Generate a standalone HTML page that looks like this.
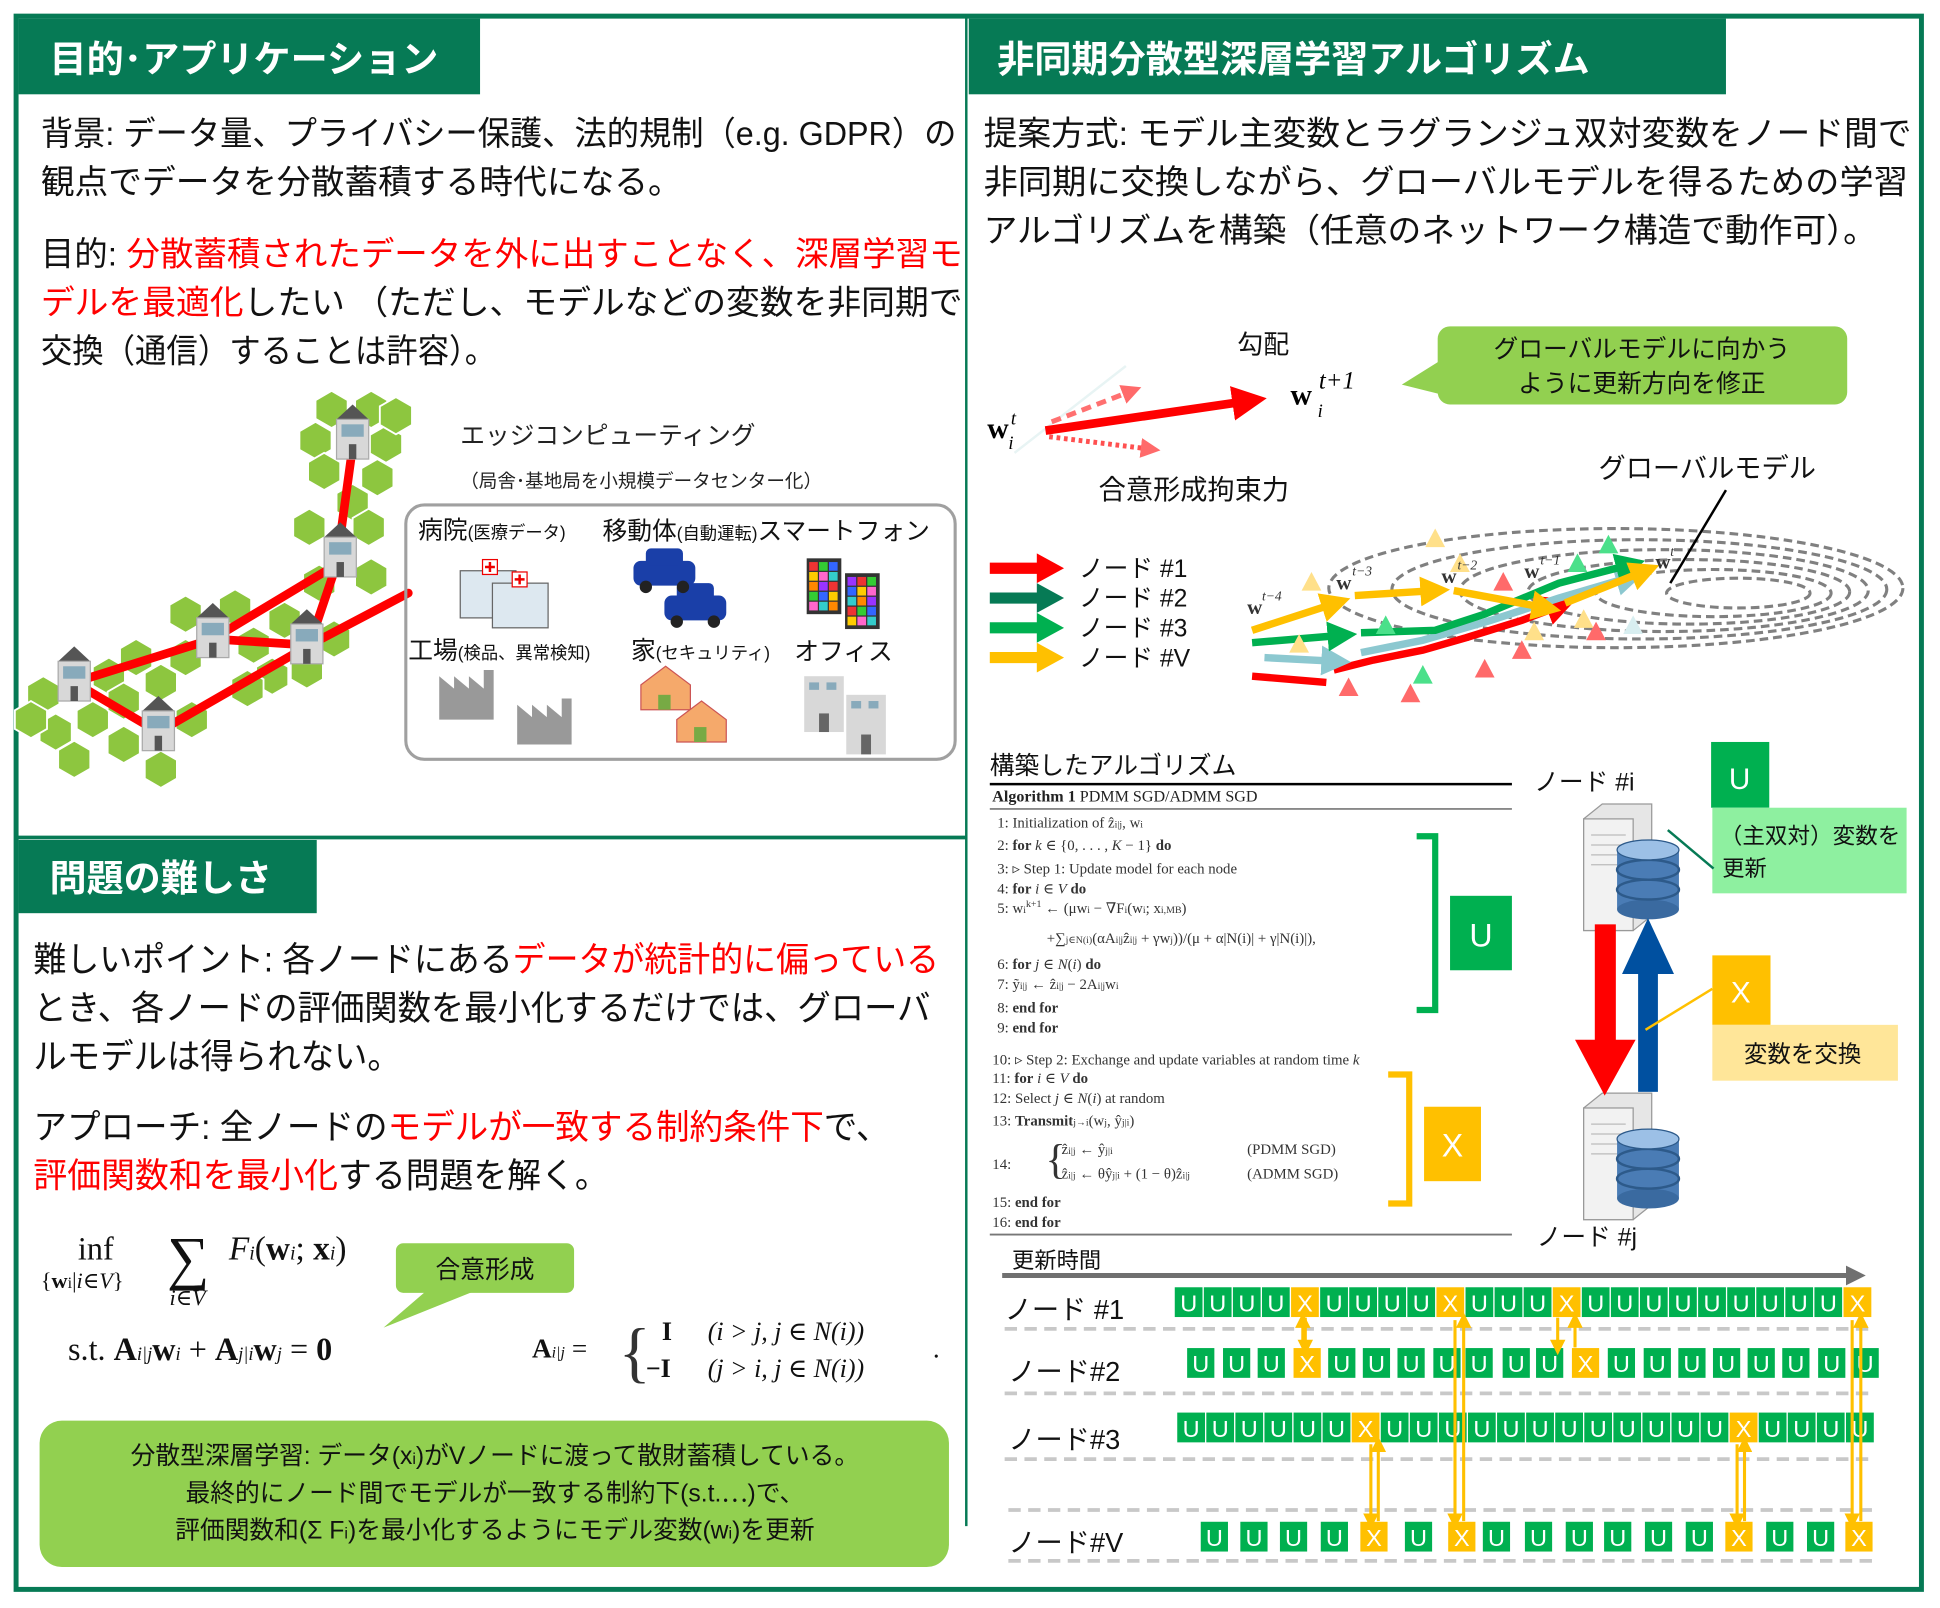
<!DOCTYPE html>
<html><head><meta charset="utf-8">
<style>
html,body{margin:0;padding:0;background:#fff;}
svg{display:block;}
text{font-family:"Liberation Sans","Noto Sans CJK JP",sans-serif;}
.s,.s text,text.s{font-family:"Liberation Serif","DejaVu Serif",serif;}
</style></head><body>
<svg id="m" width="1940" height="1608" viewBox="0 0 1568 1296" preserveAspectRatio="none" xmlns="http://www.w3.org/2000/svg">
<defs>
<marker id="ar" markerWidth="4" markerHeight="4" refX="2" refY="2" orient="auto" markerUnits="strokeWidth"><path d="M0,0L4,2L0,4z" fill="#ff0000"/></marker>
<marker id="ao" markerWidth="4" markerHeight="4" refX="2" refY="2" orient="auto" markerUnits="strokeWidth"><path d="M0,0L4,2L0,4z" fill="#ffc000"/></marker>
<marker id="ag" markerWidth="4" markerHeight="4" refX="2" refY="2" orient="auto" markerUnits="strokeWidth"><path d="M0,0L4,2L0,4z" fill="#00b050"/></marker>
<marker id="ab" markerWidth="4" markerHeight="4" refX="2" refY="2" orient="auto" markerUnits="strokeWidth"><path d="M0,0L4,2L0,4z" fill="#8cc8d0"/></marker>
<marker id="ap" markerWidth="4" markerHeight="4" refX="2" refY="2" orient="auto" markerUnits="strokeWidth"><path d="M0,0L4,2L0,4z" fill="#ff6a6a"/></marker>
<marker id="ay" markerWidth="5" markerHeight="5" refX="2.5" refY="2.5" orient="auto" markerUnits="strokeWidth"><path d="M0,0L5,2.5L0,5z" fill="#ffc000"/></marker>
<marker id="agr" markerWidth="4" markerHeight="4" refX="1" refY="2" orient="auto" markerUnits="strokeWidth"><path d="M0,0L4,2L0,4z" fill="#707070"/></marker>
</defs>
<rect x="13" y="13" width="1540" height="1268" fill="none" stroke="#067a55" stroke-width="4"/>
<line x1="781" y1="13" x2="781" y2="1230" stroke="#067a55" stroke-width="2"/>
<line x1="13" y1="675" x2="781" y2="675" stroke="#067a55" stroke-width="3"/>
<rect x="15" y="15" width="373" height="61" fill="#067a55"/>
<text x="40" y="58" font-size="30" font-weight="bold" fill="#fff">目的･アプリケーション</text>
<rect x="783" y="15" width="612" height="61" fill="#067a55"/>
<text x="806" y="58" font-size="30" font-weight="bold" fill="#fff">非同期分散型深層学習アルゴリズム</text>
<rect x="15" y="677" width="241" height="59" fill="#067a55"/>
<text x="40" y="718" font-size="30" font-weight="bold" fill="#fff">問題の難しさ</text>

<g font-size="27" fill="#111">
<text x="33" y="117" textLength="740" lengthAdjust="spacingAndGlyphs">背景: データ量、プライバシー保護、法的規制（e.g. GDPR）の</text>
<text x="33" y="156" textLength="518" lengthAdjust="spacingAndGlyphs">観点でデータを分散蓄積する時代になる。</text>
<text x="33" y="214" textLength="745" lengthAdjust="spacingAndGlyphs">目的: <tspan fill="#ff0000">分散蓄積されたデータを外に出すことなく、深層学習モ</tspan></text>
<text x="33" y="253" textLength="745" lengthAdjust="spacingAndGlyphs"><tspan fill="#ff0000">デルを最適化</tspan>したい （ただし、モデルなどの変数を非同期で</text>
<text x="33" y="292" textLength="368" lengthAdjust="spacingAndGlyphs">交換（通信）することは許容）。</text>
</g>

<g id="hex"></g>
<g stroke="#ff0000" stroke-width="7" fill="none" stroke-linecap="round">
<polyline points="285,360 272,455 250,520 330,478"/>
<polyline points="272,455 172,515 60,550 128,590 250,520 172,515"/>
</g>
<g id="bld"></g>
<text x="372" y="358" font-size="20" fill="#222">エッジコンピューティング</text>
<text x="372" y="393" font-size="15" fill="#222">（局舎･基地局を小規模データセンター化）</text>
<rect x="328" y="407" width="444" height="205" rx="15" fill="none" stroke="#a0a0a0" stroke-width="2.5"/>
<g font-size="20" fill="#111">
<text x="338" y="434">病院<tspan font-size="14">(医療データ)</tspan></text>
<text x="487" y="435">移動体<tspan font-size="14">(自動運転)</tspan>スマートフォン</text>
<text x="330" y="531">工場<tspan font-size="14">(検品、異常検知)</tspan></text>
<text x="510" y="531">家<tspan font-size="14">(セキュリティ)</tspan></text>
<text x="642" y="532">オフィス</text>
</g>
<g stroke="#666" stroke-width="1" fill="#dde8f0"><rect x="372" y="460" width="45" height="38"/><rect x="398" y="470" width="45" height="36"/></g>
<rect x="390" y="451" width="12" height="12" fill="#fff" stroke="#e00"/><path d="M396,453v8M392,457h8" stroke="#e00" stroke-width="2"/>
<rect x="414" y="461" width="12" height="12" fill="#fff" stroke="#e00"/><path d="M420,463v8M416,467h8" stroke="#e00" stroke-width="2"/>
<g fill="#1a3fa8"><rect x="512" y="452" width="50" height="20" rx="6"/><rect x="522" y="442" width="30" height="14" rx="4"/><rect x="537" y="480" width="50" height="20" rx="6"/><rect x="547" y="470" width="30" height="14" rx="4"/></g>
<g fill="#222"><circle cx="522" cy="473" r="5"/><circle cx="552" cy="473" r="5"/><circle cx="547" cy="501" r="5"/><circle cx="577" cy="501" r="5"/></g>
<rect x="652" y="450" width="28" height="45" fill="#333"/><rect x="683" y="462" width="28" height="45" fill="#333"/>
<g id="px"></g>
<path d="M355,580V545l12,10V545l12,10V545l12,10V540h8V580z M418,600V568l12,10V568l12,10V568l12,10V563h8V600z" fill="#999"/>
<g fill="#f5a96b" stroke="#c55" stroke-width="1"><path d="M518,552l20,-15l20,15v20h-40z"/><path d="M547,580l20,-15l20,15v18h-40z"/></g>
<g fill="#7a4"><rect x="532" y="560" width="10" height="12"/><rect x="561" y="586" width="10" height="12"/></g>
<rect x="650" y="545" width="32" height="45" fill="#d8d8d8"/><rect x="684" y="560" width="32" height="48" fill="#d8d8d8"/>
<rect x="662" y="575" width="8" height="15" fill="#666"/><rect x="696" y="592" width="8" height="16" fill="#666"/>
<g fill="#8ab" ><rect x="654" y="550" width="8" height="6"/><rect x="668" y="550" width="8" height="6"/><rect x="688" y="565" width="8" height="6"/><rect x="702" y="565" width="8" height="6"/></g>

<g font-size="28" fill="#111">
<text x="27" y="783" textLength="732" lengthAdjust="spacingAndGlyphs">難しいポイント: 各ノードにある<tspan fill="#ff0000">データが統計的に偏っている</tspan></text>
<text x="27" y="822" textLength="725" lengthAdjust="spacingAndGlyphs">とき、各ノードの評価関数を最小化するだけでは、グローバ</text>
<text x="27" y="861" textLength="297" lengthAdjust="spacingAndGlyphs">ルモデルは得られない。</text>
<text x="27" y="918" textLength="692" lengthAdjust="spacingAndGlyphs">アプローチ: 全ノードの<tspan fill="#ff0000">モデルが一致する制約条件下</tspan>で、</text>
<text x="27" y="957" textLength="465" lengthAdjust="spacingAndGlyphs"><tspan fill="#ff0000">評価関数和を最小化</tspan>する問題を解く。</text>
</g>
<g class="s" fill="#111">
<text x="63" y="1015" font-size="26">inf</text>
<text x="33" y="1038" font-size="18">{<tspan font-weight="bold">w</tspan><tspan font-size="13">i</tspan>|<tspan font-style="italic">i</tspan>∈<tspan font-style="italic">V</tspan>}</text>
<text x="135" y="1030" font-size="48">∑</text>
<text x="137" y="1052" font-size="18" font-style="italic">i∈V</text>
<text x="185" y="1015" font-size="27"><tspan font-style="italic">F</tspan><tspan font-size="16" font-style="italic">i</tspan>(<tspan font-weight="bold">w</tspan><tspan font-size="16" font-style="italic">i</tspan>; <tspan font-weight="bold">x</tspan><tspan font-size="16" font-style="italic">i</tspan>)</text>
<text x="55" y="1096" font-size="26">s.t. <tspan font-weight="bold">A</tspan><tspan font-size="15" font-style="italic">i|j</tspan><tspan font-weight="bold">w</tspan><tspan font-size="15" font-style="italic">i</tspan> + <tspan font-weight="bold">A</tspan><tspan font-size="15" font-style="italic">j|i</tspan><tspan font-weight="bold">w</tspan><tspan font-size="15" font-style="italic">j</tspan> = <tspan font-weight="bold">0</tspan></text>
<text x="430" y="1094" font-size="22"><tspan font-weight="bold">A</tspan><tspan font-size="13" font-style="italic">i|j</tspan> =</text>
<text x="500" y="1108" font-size="54" fill="#333">{</text>
<text x="535" y="1080" font-size="21"><tspan font-weight="bold">I</tspan><tspan x="572" font-style="italic">(i &gt; j,  j ∈ N(i))</tspan></text>
<text x="522" y="1110" font-size="21"><tspan font-weight="bold">−I</tspan><tspan x="572" font-style="italic">(j &gt; i,  j ∈ N(i))</tspan></text>
<text x="754" y="1094" font-size="22">.</text>
</g>
<rect x="320" y="1002" width="144" height="40" rx="6" fill="#92d050"/>
<path d="M345,1040L310,1070L385,1040z" fill="#92d050"/>
<text x="392" y="1030" font-size="20" text-anchor="middle" fill="#111">合意形成</text>
<rect x="32" y="1145" width="735" height="118" rx="18" fill="#92d050"/>
<g font-size="20" fill="#111" text-anchor="middle">
<text x="400" y="1180">分散型深層学習: データ(x<tspan font-size="13">i</tspan>)がVノードに渡って散財蓄積している。</text>
<text x="400" y="1210">最終的にノード間でモデルが一致する制約下(s.t.⋯)で、</text>
<text x="400" y="1240">評価関数和(Σ F<tspan font-size="13">i</tspan>)を最小化するようにモデル変数(w<tspan font-size="13">i</tspan>)を更新</text>
</g>

<g font-size="27" fill="#111">
<text x="795" y="117" textLength="750" lengthAdjust="spacingAndGlyphs">提案方式: モデル主変数とラグランジュ双対変数をノード間で</text>
<text x="795" y="156" textLength="747" lengthAdjust="spacingAndGlyphs">非同期に交換しながら、グローバルモデルを得るための学習</text>
<text x="795" y="195" textLength="722" lengthAdjust="spacingAndGlyphs">アルゴリズムを構築（任意のネットワーク構造で動作可）。</text>
</g>
<text x="1000" y="285" font-size="21" fill="#111">勾配</text>
<line x1="820" y1="365" x2="910" y2="295" stroke="#e8f4f4" stroke-width="2"/>
<line x1="850" y1="340" x2="915" y2="315" stroke="#ff7070" stroke-width="4" stroke-dasharray="8,5" marker-end="url(#ap)"/>
<line x1="845" y1="347" x2="1010" y2="323" stroke="#ff0000" stroke-width="7" marker-end="url(#ar)"/>
<line x1="848" y1="352" x2="930" y2="362" stroke="#ff5050" stroke-width="4" stroke-dasharray="3,3" marker-end="url(#ap)"/>
<g class="s">
<text x="798" y="353" font-size="24" font-weight="bold">w</text><text x="817" y="342" font-size="15" font-style="italic">t</text><text x="815" y="362" font-size="15" font-style="italic">i</text>
<text x="1043" y="326" font-size="24" font-weight="bold">w</text><text x="1066" y="313" font-size="20" font-style="italic">t+1</text><text x="1065" y="336" font-size="15" font-style="italic">i</text>
</g>
<text x="888" y="402" font-size="22" fill="#111">合意形成拘束力</text>
<rect x="1162" y="263" width="331" height="63" rx="10" fill="#92d050"/>
<path d="M1165,290L1133,310L1165,318z" fill="#92d050"/>
<text x="1327" y="288" font-size="20" text-anchor="middle" fill="#111">グローバルモデルに向かう</text>
<text x="1327" y="316" font-size="20" text-anchor="middle" fill="#111">ように更新方向を修正</text>
<text x="1292" y="385" font-size="22" fill="#111">グローバルモデル</text>
<g fill="none" stroke="#808080" stroke-width="2.5" stroke-dasharray="7,4">
<ellipse cx="1306" cy="474" rx="232" ry="48"/>
<ellipse cx="1325" cy="475" rx="200" ry="40"/>
<ellipse cx="1345" cy="476" rx="165" ry="33"/>
<ellipse cx="1365" cy="477" rx="130" ry="26"/>
<ellipse cx="1385" cy="478" rx="95" ry="19"/>
<ellipse cx="1405" cy="478" rx="58" ry="12"/>
</g>
<g fill="none" stroke-width="6">
<polyline points="1012,545 1072,550" stroke="#ff0000"/>
<polyline points="1078,540 1110,532 1150,524 1185,514 1230,500 1262,488" stroke="#ff0000" marker-end="url(#ar)"/>
<polyline points="1022,530 1080,533" stroke="#8cc8d0" marker-end="url(#ab)"/>
<polyline points="1100,526 1150,516 1205,500 1260,482 1318,465" stroke="#8cc8d0" marker-end="url(#ab)"/>
<polyline points="1012,518 1085,512" stroke="#00b050" marker-end="url(#ag)"/>
<polyline points="1100,510 1160,508 1200,495 1260,470 1318,455" stroke="#00b050" marker-end="url(#ag)"/>
<polyline points="1012,508 1080,486" stroke="#ffc000" marker-end="url(#ao)"/>
<polyline points="1095,480 1160,476" stroke="#ffc000" marker-end="url(#ao)"/>
<polyline points="1175,476 1250,490" stroke="#ffc000" marker-end="url(#ao)"/>
<polyline points="1265,486 1330,460" stroke="#ffc000" marker-end="url(#ao)"/>
</g>
<g id="conf"></g>
<g class="s" font-size="17" font-weight="bold" fill="#333">
<text x="1008" y="495">w</text><text x="1080" y="475">w</text><text x="1165" y="470">w</text><text x="1232" y="466">w</text><text x="1338" y="458">w</text>
</g>
<g class="s" font-size="11" font-style="italic" fill="#333">
<text x="1020" y="484">t−4</text><text x="1093" y="464">t−3</text><text x="1178" y="459">t−2</text><text x="1245" y="455">t−1</text><text x="1350" y="448">t</text>
</g>
<line x1="1395" y1="395" x2="1350" y2="470" stroke="#000" stroke-width="2"/>
<g stroke-width="9" fill="none">
<line x1="800" y1="458" x2="842" y2="458" stroke="#ff0000"/>
<line x1="800" y1="482" x2="842" y2="482" stroke="#067a55"/>
<line x1="800" y1="506" x2="842" y2="506" stroke="#00b050"/>
<line x1="800" y1="530" x2="842" y2="530" stroke="#ffc000"/>
</g>
<path d="M838,446L860,458L838,470z" fill="#ff0000"/>
<path d="M838,470L860,482L838,494z" fill="#067a55"/>
<path d="M838,494L860,506L838,518z" fill="#00b050"/>
<path d="M838,518L860,530L838,542z" fill="#ffc000"/>
<g font-size="20" fill="#111"><text x="872" y="465">ノード #1</text><text x="872" y="489">ノード #2</text><text x="872" y="513">ノード #3</text><text x="872" y="537">ノード #V</text></g>

<text x="800" y="624" font-size="20" fill="#111">構築したアルゴリズム</text>
<line x1="800" y1="632" x2="1222" y2="632" stroke="#000" stroke-width="2"/>
<text x="802" y="646" font-size="13" class="s" fill="#222"><tspan font-weight="bold">Algorithm 1</tspan> PDMM SGD/ADMM SGD</text>
<line x1="800" y1="652" x2="1222" y2="652" stroke="#888" stroke-width="1.5"/>
<g class="s" font-size="12" fill="#333">
<text x="806" y="667">1: Initialization of ẑ<tspan font-size="8">i|j</tspan>, w<tspan font-size="8">i</tspan></text>
<text x="806" y="685">2: <tspan font-weight="bold">for</tspan> <tspan font-style="italic">k</tspan> ∈ {0, . . . , <tspan font-style="italic">K</tspan> − 1} <tspan font-weight="bold">do</tspan></text>
<text x="806" y="704">3:    ▹ Step 1: Update model for each node</text>
<text x="806" y="720">4:    <tspan font-weight="bold">for</tspan> <tspan font-style="italic">i</tspan> ∈ <tspan font-style="italic">V</tspan> <tspan font-weight="bold">do</tspan></text>
<text x="806" y="736">5:       w<tspan font-size="8">i</tspan><tspan font-size="8" dy="-5">k+1</tspan><tspan dy="5"> ← (μw<tspan font-size="8">i</tspan> − ∇F<tspan font-size="8">i</tspan>(w<tspan font-size="8">i</tspan>; x<tspan font-size="8">i,MB</tspan>)</tspan></text>
<text x="846" y="760">+∑<tspan font-size="8">j∈N(i)</tspan>(αA<tspan font-size="8">i|j</tspan>ẑ<tspan font-size="8">i|j</tspan> + γw<tspan font-size="8">j</tspan>))/(μ + α|N(i)| + γ|N(i)|),</text>
<text x="806" y="781">6:       <tspan font-weight="bold">for</tspan> <tspan font-style="italic">j</tspan> ∈ <tspan font-style="italic">N</tspan>(<tspan font-style="italic">i</tspan>) <tspan font-weight="bold">do</tspan></text>
<text x="806" y="797">7:          ỹ<tspan font-size="8">i|j</tspan> ← ẑ<tspan font-size="8">i|j</tspan> − 2A<tspan font-size="8">i|j</tspan>w<tspan font-size="8">i</tspan></text>
<text x="806" y="816">8:       <tspan font-weight="bold">end for</tspan></text>
<text x="806" y="832">9:    <tspan font-weight="bold">end for</tspan></text>
<text x="802" y="858">10:    ▹ Step 2: Exchange and update variables at random time <tspan font-style="italic">k</tspan></text>
<text x="802" y="873">11:    <tspan font-weight="bold">for</tspan> <tspan font-style="italic">i</tspan> ∈ <tspan font-style="italic">V</tspan> <tspan font-weight="bold">do</tspan></text>
<text x="802" y="889">12:       Select <tspan font-style="italic">j</tspan> ∈ <tspan font-style="italic">N</tspan>(<tspan font-style="italic">i</tspan>) at random</text>
<text x="802" y="907">13:       <tspan font-weight="bold">Transmit</tspan><tspan font-size="8">j→i</tspan>(w<tspan font-size="8">j</tspan>, ŷ<tspan font-size="8">j|i</tspan>)</text>
<text x="802" y="942">14:</text>
<text x="845" y="946" font-size="34">{</text>
<text x="858" y="930">ẑ<tspan font-size="8">i|j</tspan> ← ŷ<tspan font-size="8">j|i</tspan></text><text x="1008" y="930">(PDMM SGD)</text>
<text x="858" y="950">ẑ<tspan font-size="8">i|j</tspan> ← θŷ<tspan font-size="8">j|i</tspan> + (1 − θ)ẑ<tspan font-size="8">i|j</tspan></text><text x="1008" y="950">(ADMM SGD)</text>
<text x="802" y="973">15:    <tspan font-weight="bold">end for</tspan></text>
<text x="802" y="989">16: <tspan font-weight="bold">end for</tspan></text>
</g>
<line x1="800" y1="995" x2="1222" y2="995" stroke="#777" stroke-width="1.5"/>
<path d="M1145,674h15v140h-15" fill="none" stroke="#00b050" stroke-width="5"/>
<rect x="1172" y="722" width="50" height="60" fill="#00b050"/><text x="1197" y="763" font-size="26" fill="#fff" text-anchor="middle">U</text>
<path d="M1122,866h17v104h-17" fill="none" stroke="#ffc000" stroke-width="5"/>
<rect x="1151" y="892" width="46" height="60" fill="#ffc000"/><text x="1174" y="932" font-size="26" fill="#fff" text-anchor="middle">X</text>

<text x="1240" y="637" font-size="20" fill="#111">ノード #i</text>
<text x="1242" y="1004" font-size="20" fill="#111">ノード #j</text>
<g id="srv1"></g>
<rect x="1289" y="745" width="17" height="95" fill="#ff0000"/>
<path d="M1273,838L1322,838L1297,883z" fill="#ff0000"/>
<rect x="1324" y="783" width="16" height="97" fill="#0050a0"/>
<path d="M1311,785L1353,785L1332,740z" fill="#0050a0"/>
<rect x="1383" y="598" width="47" height="53" fill="#00b050"/><text x="1406" y="636" font-size="24" fill="#fff" text-anchor="middle">U</text>
<rect x="1384" y="651" width="157" height="69" fill="#8ef0a0"/>
<text x="1390" y="680" font-size="18" fill="#111" textLength="146" lengthAdjust="spacingAndGlyphs">（主双対）変数を</text><text x="1392" y="706" font-size="18" fill="#111">更新</text>
<line x1="1385" y1="700" x2="1348" y2="669" stroke="#067a55" stroke-width="2"/>
<rect x="1384" y="770" width="47" height="56" fill="#ffc000"/><text x="1407" y="808" font-size="24" fill="#fff" text-anchor="middle">X</text>
<rect x="1384" y="826" width="150" height="45" fill="#ffe699"/>
<text x="1457" y="856" font-size="19" fill="#111" text-anchor="middle">変数を交換</text>
<line x1="1384" y1="797" x2="1330" y2="830" stroke="#ffc000" stroke-width="2"/>

<text x="818" y="1022" font-size="18" fill="#111">更新時間</text>
<line x1="810" y1="1028" x2="1496" y2="1028" stroke="#707070" stroke-width="4" marker-end="url(#agr)"/>
<g stroke="#c8c8c8" stroke-width="3" stroke-dasharray="10,6">
<line x1="812" y1="1071" x2="1512" y2="1071"/><line x1="812" y1="1123" x2="1512" y2="1123"/>
<line x1="812" y1="1176" x2="1512" y2="1176"/><line x1="815" y1="1217" x2="1515" y2="1217"/>
<line x1="815" y1="1258" x2="1515" y2="1258"/>
</g>
<g font-size="22" fill="#111">
<text x="812" y="1063">ノード #1</text><text x="815" y="1113">ノード#2</text><text x="815" y="1168">ノード#3</text><text x="815" y="1251">ノード#V</text>
</g>
<g id="tl"></g>
</svg>
<script>
var NS="http://www.w3.org/2000/svg";
function el(p,t,a,txt){var e=document.createElementNS(NS,t);for(var k in a)e.setAttribute(k,a[k]);if(txt)e.textContent=txt;document.getElementById(p).appendChild(e);return e;}
var hc=[[285,350],[300,330],[268,330],[255,355],[312,358],[262,380],[305,385],[285,405],[275,445],[250,425],[298,425],[258,470],[300,465],[230,500],[248,540],[270,515],[205,520],[172,510],[150,530],[190,490],[150,495],[130,550],[110,530],[88,545],[60,545],[35,560],[45,590],[75,580],[100,600],[128,590],[155,580],[60,612],[130,620],[220,545],[100,565],[200,555],[25,580],[320,335]];
hc.forEach(function(c){var pts=[];for(var i=0;i<6;i++){var a=Math.PI/3*i+Math.PI/6;pts.push((c[0]+15*Math.cos(a)).toFixed(1)+","+(c[1]+15*Math.sin(a)).toFixed(1));}el("hex","polygon",{points:pts.join(" "),fill:"#8dc63f",stroke:"#fff","stroke-width":1.5});});
[[285,350],[275,445],[172,510],[248,515],[60,545],[128,585]].forEach(function(b){var x=b[0]-13,y=b[1]-12;el("bld","path",{d:"M"+(x)+","+(y)+"l13,-12l13,12z",fill:"#555"});el("bld","rect",{x:x,y:y,width:26,height:32,fill:"#d8d8d8",stroke:"#aaa"});el("bld","rect",{x:x+4,y:y+4,width:18,height:10,fill:"#8ab"});el("bld","rect",{x:x+10,y:y+20,width:6,height:12,fill:"#555"});});
var cols=["#e33","#3c3","#36f","#fc0","#f6c","#3cc","#f80","#93f"];var n=0;
[[654,453],[685,465]].forEach(function(p){for(var r=0;r<5;r++)for(var c=0;c<3;c++){el("px","rect",{x:p[0]+c*8,y:p[1]+r*8,width:7,height:7,fill:cols[(n++)%8]});}});
var conf=[[1160,435,"#ffe08a"],[1300,440,"#4be08a"],[1280,500,"#ffe08a"],[1090,555,"#ff6a6a"],[1140,560,"#ff6a6a"],[1200,540,"#ff6a6a"],[1050,520,"#ffe08a"],[1120,505,"#4be08a"],[1240,510,"#ffe08a"],[1215,470,"#ff6a6a"],[1060,470,"#ffe08a"],[1180,455,"#ffe08a"],[1275,455,"#4be08a"],[1290,510,"#ff6a6a"],[1150,545,"#4be08a"],[1230,525,"#ff6a6a"],[1320,505,"#d8eef0"]];
conf.forEach(function(c){el("conf","polygon",{points:(c[0])+","+(c[1]-9)+" "+(c[0]+8)+","+(c[1]+6)+" "+(c[0]-8)+","+(c[1]+6),fill:c[2]});});
[[1280,645],[1280,878]].forEach(function(s){var x=s[0],y=s[1];
el("srv1","path",{d:"M"+x+","+(y+15)+"l15,-12h40v90l-15,12h-40z",fill:"#e6e6e6",stroke:"#999"});
el("srv1","rect",{x:x,y:y+15,width:40,height:90,fill:"#f2f2f2",stroke:"#999"});
for(var i=0;i<4;i++)el("srv1","line",{x1:x+6,y1:y+28+i*8,x2:x+34,y2:y+28+i*8,stroke:"#bbb"});
var cx=x+52,cy=y+40;
el("srv1","rect",{x:cx-25,y:cy,width:50,height:48,fill:"#4a7cb5"});
el("srv1","ellipse",{cx:cx,cy:cy+48,rx:25,ry:8,fill:"#3a6aa0"});
el("srv1","ellipse",{cx:cx,cy:cy+32,rx:25,ry:8,fill:"none",stroke:"#2d5a8a","stroke-width":2});
el("srv1","ellipse",{cx:cx,cy:cy+16,rx:25,ry:8,fill:"none",stroke:"#2d5a8a","stroke-width":2});
el("srv1","ellipse",{cx:cx,cy:cy,rx:25,ry:8,fill:"#9cc0e6",stroke:"#2d5a8a"});});
function row(xs,y,seq,w){for(var i=0;i<seq.length;i++){var c=seq[i],x=xs[i];el("tl","rect",{x:x,y:y,width:w,height:25,fill:c=="U"?"#00b050":"#ffc000",stroke:"#fff","stroke-width":1});el("tl","text",{x:x+w/2,y:y+20,"font-size":19,fill:"#fff","text-anchor":"middle"},c);}}
var s1="UUUUXUUUUXUUUXUUUUUUUUUX",x1=[];for(var i=0;i<24;i++)x1.push(949+i*23.5);row(x1,1037,s1,23.5);
var x2=[959,988,1016,1045,1073,1101,1129,1158,1184,1214,1241,1270,1299,1328,1356,1384,1412,1440,1469,1496],s2="UUUXUUUUUUUXUUUUUUUU";row(x2,1086,s2,23);
var s3="UUUUUUXUUUUUUUUUUUUXUUUU",x3=[];for(var i=0;i<24;i++)x3.push(951+i*23.5);row(x3,1138,s3,23.5);
var xv=[970,1002,1034,1067,1099,1135,1170,1198,1232,1265,1296,1329,1362,1394,1427,1460,1491],sv="UUUUXUXUUUUUUXUUX";row(xv,1226,sv,23);
function arr(x,ya,yb){el("tl","line",{x1:x,y1:ya,x2:x,y2:yb,stroke:"#ffc000","stroke-width":2.5,"marker-end":"url(#ay)"});}
[[1058,1050],[1262,1270]].forEach(function(p){arr(p[0]-3,1062,1086);arr(p[1]+3,1086,1064);});
arr(1179-3,1064,1226);arr(1179+4,1226,1064);arr(1500-3,1064,1226);arr(1500+4,1226,1064);
arr(1108,1164,1226);arr(1114,1226,1164);arr(1404,1164,1226);arr(1410,1226,1164);
</script>
</body></html>
